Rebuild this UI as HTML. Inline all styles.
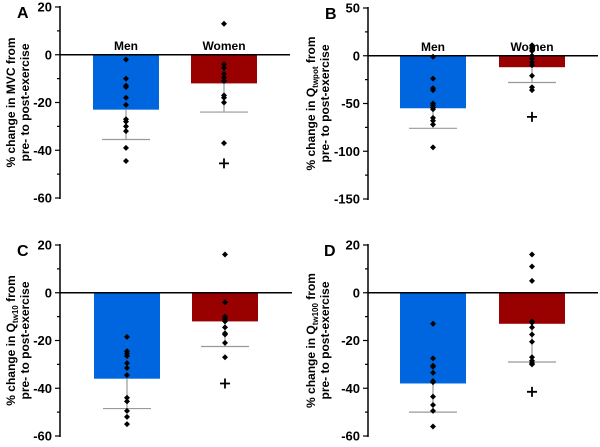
<!DOCTYPE html>
<html><head><meta charset="utf-8"><style>
body{margin:0;background:#fff;width:600px;height:442px;overflow:hidden}
svg{font-family:"Liberation Sans",Arial,sans-serif;font-weight:bold}
</style></head><body>
<svg id="fig" width="600" height="442" viewBox="0 0 600 442"></svg>
<script>
// Panel data
const groups = ["Men","Women"];
const aMeans = [-23,-12], aErr = [-35.5,-24];
const aMen = [-2,-10,-13,-13.5,-18,-21,-27,-28,-30,-32,-39,-44.5];
const aWomen = [13,-4,-5.5,-8,-9.5,-11,-11,-17,-18,-20,-37];
const aPlus = [-45.5];
const aTicks = [20,0,-20,-40,-60];
const bMeans = [-55,-12], bErr = [-76,-28];
const bMen = [-1,-24,-34,-36,-50,-52,-54,-56,-65,-68,-72,-96];
const bWomen = [11,8,5,0,-3,-7,-10,-21,-33,-36];
const bPlus = [-64];
const bTicks = [50,0,-50,-100,-150];
const cMeans = [-36,-12], cErr = [-48.5,-22.5];
const cMen = [-18.5,-24.5,-25.5,-26.5,-29.5,-31.5,-34.5,-44,-45.5,-49.5,-52,-55];
const cWomen = [16,-4,-10,-11,-12,-14.5,-17,-17.5,-21,-27];
const cPlus = [-38];
const cTicks = [20,0,-20,-40,-60];
const dMeans = [-38,-13], dErr = [-50,-29];
const dMen = [-13,-27.5,-30.5,-31,-33.5,-37,-37.5,-43.5,-47,-49.5,-56];
const dWomen = [16,11,5,-12,-12.5,-14.5,-17.5,-20.5,-27,-28.5,-29.5,-30];
const dPlus = [-41.5];
const dTicks = [20,0,-20,-40,-60];

const NS="http://www.w3.org/2000/svg";
const fig=document.getElementById('fig');
function mk(tag,attrs,parent,text){const e=document.createElementNS(NS,tag);for(const k in attrs)e.setAttribute(k,attrs[k]);if(text!==undefined)e.textContent=text;(parent||fig).appendChild(e);return e;}

function panel(p){
  const g=mk('g',{});
  
  
  const max=p.ticks[0], min=p.ticks[p.ticks.length-1];
  const y=v=>p.yTop+(max-v)/(max-min)*(p.yBot-p.yTop);
  const step=(p.ticks[0]-p.ticks[1])/2;
  // bars
  const cols=['#0066e0','#990000'];
  for(let i=0;i<2;i++){
    const cx=p.cx[i];
    const bar=mk('rect',{x:cx-33,y:y(0),width:66,height:y(p.means[i])-y(0),fill:cols[i]},g);
    
    
    const el=mk('line',{x1:cx,x2:cx,y1:y(p.means[i]),y2:y(p.err[i]),stroke:'#999','stroke-width':1.2},g);
    
    
    const cap=mk('line',{x1:cx-24,x2:cx+24,y1:y(p.err[i]),y2:y(p.err[i]),stroke:'#999','stroke-width':1.2},g);
    
    
  }
  // zero line
  const z=mk('line',{x1:p.ax,x2:p.zEnd,y1:y(0),y2:y(0),stroke:'#000','stroke-width':1.5},g);
  
  
  // points
  [p.men,p.women].forEach((arr,i)=>arr.forEach(v=>{
    const d=mk('path',{d:`M${p.cx[i]} ${y(v)-3}l3 3l-3 3l-3-3z`,fill:'#000'},g);
    
    
  }));
  p.plus.forEach(v=>{
    const pl=mk('path',{d:`M${p.cx[1]-5} ${y(v)}h10M${p.cx[1]} ${y(v)-5}v10`,stroke:'#000','stroke-width':1.8},g);
    
    
  });
  // axis
  const ax=mk('line',{x1:p.ax,x2:p.ax,y1:y(max)-1,y2:y(min)+1,stroke:'#000','stroke-width':1.5},g);
  
  
  for(let v=max;v>=min-0.01;v-=step){
    const major=p.ticks.some(t=>Math.abs(t-v)<1e-6);
    mk('line',{x1:p.ax-(major?5:3),x2:p.ax,y1:y(v),y2:y(v),stroke:'#000','stroke-width':1.2},g);
  }
  p.ticks.forEach(t=>{
    const tl=mk('text',{x:p.ax-8,y:y(t)+4.5,'text-anchor':'end','font-size':13},g,String(t));
    
    
  });
  const L=mk('text',{x:p.lx,y:p.yTop+11,'font-size':16},g,p.letter);
  
  
  const tx=p.tx, ty=(p.yTop+p.yBot)/2;
  const t=mk('text',{transform:`translate(${tx},${ty}) rotate(-90)`,'text-anchor':'middle','font-size':12},g);
  
  
  const t1=mk('tspan',{x:0,y:0},t);
  t1.appendChild(document.createTextNode('% change in '+(p.q?'Q':'MVC')));
  if(p.q){mk('tspan',{'font-size':8,dy:3},t1,p.q);mk('tspan',{dy:-3},t1,' from');}
  else t1.appendChild(document.createTextNode(' from'));
  mk('tspan',{x:0,y:14},t,'pre- to post-exercise');
  if(p.labels){groups.forEach((gn,i)=>{
    const gl=mk('text',{x:p.cx[i],y:y(0)-5,'text-anchor':'middle','font-size':12},g,gn);
    
    
  });}
}
panel({letter:'A',means:aMeans,err:aErr,men:aMen,women:aWomen,plus:aPlus,ticks:aTicks,yTop:7,yBot:198,ax:60,cx:[126,224],zEnd:290,lx:17,tx:15,q:null,labels:true});
panel({letter:'B',means:bMeans,err:bErr,men:bMen,women:bWomen,plus:bPlus,ticks:bTicks,yTop:8,yBot:199,ax:368,cx:[433,532],zEnd:598,lx:325,tx:315,q:'twpot',labels:true});
panel({letter:'C',means:cMeans,err:cErr,men:cMen,women:cWomen,plus:cPlus,ticks:cTicks,yTop:245,yBot:436,ax:60,cx:[127,225],zEnd:292,lx:17,tx:15,q:'tw10',labels:false});
panel({letter:'D',means:dMeans,err:dErr,men:dMen,women:dWomen,plus:dPlus,ticks:dTicks,yTop:245,yBot:436,ax:368,cx:[433,532],zEnd:598,lx:324,tx:315,q:'tw100',labels:false});
</script>
</body></html>
